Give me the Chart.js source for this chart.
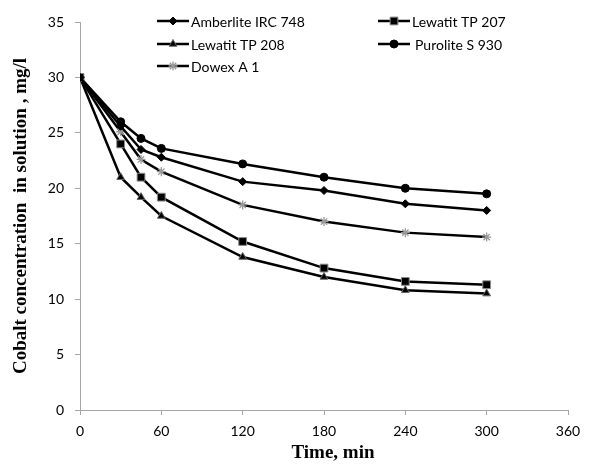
<!DOCTYPE html>
<html>
<head>
<meta charset="utf-8">
<script src="https://cdn.jsdelivr.net/npm/chart.js@4/dist/chart.umd.min.js"></script>
<style>
  html, body { margin: 0; padding: 0; background: #fff; }
  #wrap { width: 611px; height: 464px; }
</style>
</head>
<body>
<div id="wrap"><canvas id="chart" width="611" height="464"></canvas></div>
<script>
// Datos
var times = [0, 30, 45, 60, 120, 180, 240, 300];
var amberlite = [30, 25.6, 23.5, 22.8, 20.6, 19.8, 18.6, 18.0];
var lewatit207 = [30, 24.0, 21.0, 19.2, 15.2, 12.8, 11.6, 11.3];
var lewatit208 = [30, 21.0, 19.2, 17.5, 13.8, 12.0, 10.8, 10.5];
var purolite = [30, 26.0, 24.5, 23.6, 22.2, 21.0, 20.0, 19.5];
var dowex = [30, 25.1, 22.6, 21.5, 18.5, 17.0, 16.0, 15.6];
var xTicks = [0, 60, 120, 180, 240, 300, 360];
var yTicks = [0, 5, 10, 15, 20, 25, 30, 35];

var fuenteTexto = 'Lato, "Open Sans", sans-serif';
var fuenteTitulo = '"Liberation Serif", "Times New Roman", serif';

function toPoints(vals) {
    return vals.map(function (v, i) { return { x: times[i], y: v }; });
}

function serie(label, vals, style, radius, fill, border) {
    return {
        label: label,
        data: toPoints(vals),
        borderColor: '#000',
        borderWidth: 2.5,
        pointStyle: style,
        pointRadius: radius,
        pointBackgroundColor: fill,
        pointBorderColor: border,
        pointBorderWidth: 1,
        tension: 0
    };
}

var datasets = [
    serie('Amberlite IRC 748', amberlite, 'rectRot', 4, '#000', '#000'),
    serie('Lewatit TP 207', lewatit207, 'rect', 5.5, '#000', '#888'),
    serie('Lewatit TP 208', lewatit208, 'triangle', 4.5, '#000', '#666'),
    serie('Purolite S 930', purolite, 'circle', 4, '#000', '#000'),
    serie('Dowex A 1', dowex, 'star', 4.5, '#999', '#999')
];
datasets[4].pointBorderWidth = 1.3;

// posiciones de la leyenda (columna, fila)
var legendPos = [
    { x: 157, y: 21 }, { x: 378, y: 21 },
    { x: 157, y: 44 }, { x: 378, y: 44 },
    { x: 157, y: 66 }
];

var legendPlugin = {
    id: 'miLeyenda',
    afterDraw: function (chart) {
        var ctx = chart.ctx;
        ctx.save();
        chart.data.datasets.forEach(function (ds, i) {
            var p = legendPos[i];
            ctx.strokeStyle = '#000';
            ctx.lineWidth = 2.5;
            ctx.beginPath();
            ctx.moveTo(p.x, p.y);
            ctx.lineTo(p.x + 32, p.y);
            ctx.stroke();
            ctx.fillStyle = ds.pointBackgroundColor;
            ctx.strokeStyle = ds.pointBorderColor;
            ctx.lineWidth = ds.pointBorderWidth;
            Chart.helpers.drawPoint(ctx, {
                pointStyle: ds.pointStyle,
                radius: ds.pointRadius,
                borderWidth: ds.pointBorderWidth,
                rotation: 0
            }, p.x + 16, p.y);
            ctx.fillStyle = '#000';
            ctx.font = '14px ' + fuenteTexto;
            ctx.textBaseline = 'middle';
            ctx.textAlign = 'left';
            var off = (i === 3) ? 37 : 34;
            ctx.fillText(ds.label, p.x + off, p.y + 1);
        });
        // titulo del eje x, un poco corrido a la derecha como en el original
        ctx.fillStyle = '#000';
        ctx.font = 'bold 19px ' + fuenteTitulo;
        ctx.textAlign = 'center';
        ctx.textBaseline = 'middle';
        ctx.fillText('Time, min', 333, 453);
        ctx.restore();
    }
};

var ctx = document.getElementById('chart').getContext('2d');
new Chart(ctx, {
    type: 'line',
    data: { datasets: datasets },
    options: {
        responsive: false,
        animation: false,
        layout: { padding: { top: 22, right: 43, left: 0, bottom: 0 } },
        plugins: {
            legend: { display: false },
            tooltip: { enabled: false }
        },
        scales: {
            x: {
                type: 'linear',
                min: 0,
                max: 360,
                afterBuildTicks: function (s) {
                    s.ticks = xTicks.map(function (v) { return { value: v }; });
                },
                afterFit: function (s) { s.height = 54; },
                grid: {
                    drawOnChartArea: false,
                    drawTicks: true,
                    tickLength: 5,
                    color: '#a6a6a6'
                },
                border: { color: '#a6a6a6', width: 1 },
                ticks: {
                    color: '#000',
                    padding: 8,
                    maxRotation: 0,
                    font: { family: fuenteTexto, size: 14 }
                },
                title: { display: false }
            },
            y: {
                min: 0,
                max: 35,
                afterBuildTicks: function (s) {
                    s.ticks = yTicks.map(function (v) { return { value: v }; });
                },
                afterFit: function (s) { s.width = 80; },
                grid: {
                    drawOnChartArea: false,
                    drawTicks: true,
                    tickLength: 5,
                    color: '#a6a6a6'
                },
                border: { color: '#a6a6a6', width: 1 },
                ticks: {
                    color: '#000',
                    padding: 11,
                    font: { family: fuenteTexto, size: 14 }
                },
                title: {
                    display: true,
                    text: 'Cobalt concentration  in solution , mg/l',
                    color: '#000',
                    padding: { top: 10, bottom: 0 },
                    font: { family: fuenteTitulo, size: 19, weight: 'bold' }
                }
            }
        }
    },
    plugins: [legendPlugin]
});
</script>
</body>
</html>
